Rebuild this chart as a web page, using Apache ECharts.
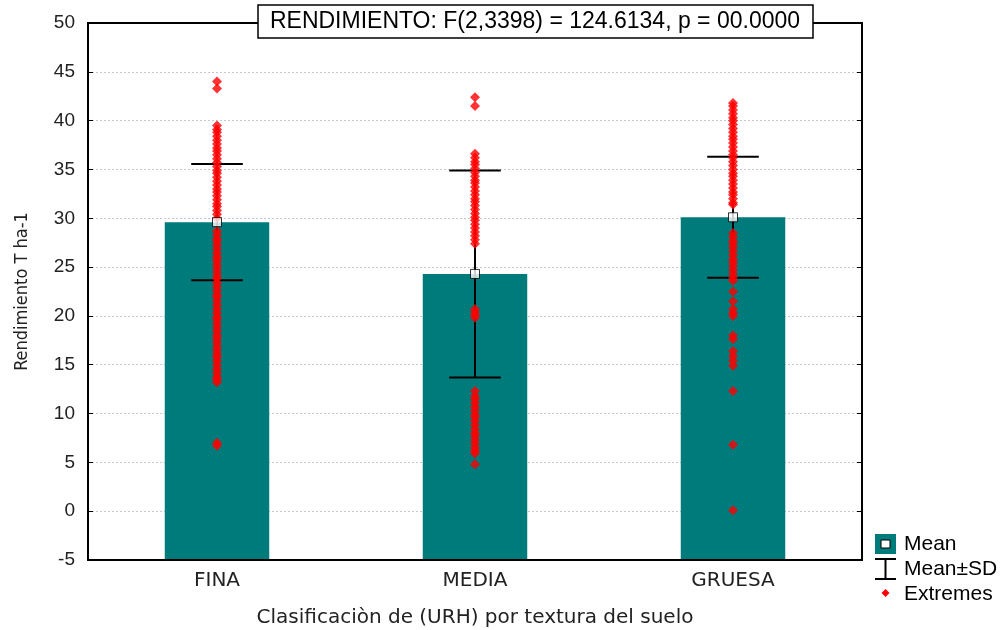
<!DOCTYPE html>
<html><head><meta charset="utf-8">
<script src="https://cdn.jsdelivr.net/npm/echarts@6/dist/echarts.min.js"></script>
<style>html,body{margin:0;padding:0;background:#fff}#c{width:1008px;height:630px}</style>
</head><body><div id="c"></div>
<script>
const categories = ['FINA', 'MEDIA', 'GRUESA'];
const means = [29.6, 24.3, 30.1];
const sds = [5.95, 10.6, 6.2];
const yMin = -5, yMax = 50, yStep = 5;
const extremesFina = [44.0, 43.3, 39.5, 39.1, 38.8, 38.4, 38.0, 37.6, 37.2, 36.9, 36.5, 36.1, 35.7, 35.3, 34.9, 34.6, 34.2, 33.8, 33.4, 33.0, 32.7, 32.3, 31.9, 31.5, 31.2, 30.8, 30.4, 30.0,
  28.7, 28.3, 27.9, 27.6, 27.2, 26.8, 26.4, 26.0, 25.7, 25.3, 24.9, 24.5, 24.1, 23.8, 23.4, 23.0, 22.6, 22.2, 21.9, 21.5, 21.1, 20.7, 20.3, 19.9, 19.6, 19.2, 18.8, 18.4, 18.0, 17.7, 17.3, 16.9, 16.5, 16.1, 15.8, 15.4, 15.0, 14.6, 14.2, 13.8, 13.5, 13.2, 7.0, 6.7];
const extremesMedia = [42.4, 41.5, 36.6, 36.2, 35.8, 35.5, 35.1, 34.7, 34.3, 33.9, 33.6, 33.2, 32.8, 32.4, 32.0, 31.7, 31.3, 30.9, 30.5, 30.1, 29.8, 29.4, 29.0, 28.6, 28.2, 27.8, 27.4,
  20.7, 20.4, 20.1, 19.8, 12.3, 11.8, 11.5, 11.1, 10.7, 10.3, 9.9, 9.6, 9.2, 8.8, 8.4, 8.0, 7.7, 7.3, 6.9, 6.5, 6.2, 5.9, 4.8];
const extremesGruesa = [41.8, 41.5, 41.1, 40.7, 40.3, 40.0, 39.6, 39.2, 38.8, 38.4, 38.1, 37.7, 37.3, 36.9, 36.5, 36.2, 35.8, 35.4, 35.0, 34.6, 34.3, 33.9, 33.5, 33.1, 32.7, 32.4, 32.0, 31.6, 31.4,
  28.5, 28.1, 27.7, 27.4, 27.0, 26.6, 26.2, 25.8, 25.5, 25.1, 24.7, 24.3, 23.9, 23.6, 22.5, 21.5, 20.7, 20.3, 20.0, 18.0, 17.6, 16.4, 15.9, 15.4, 14.9, 12.3, 6.8, 0.1];
const titleText = 'RENDIMIENTO: F(2,3398) = 124.6134, p = 00.0000';
const yName = 'Rendimiento T ha-1';
const xName = 'Clasificaciòn de (URH) por textura del suelo';
const legendLabels = ['Mean', 'Mean±SD', 'Extremes'];

const TEAL = '#007B7B';
const chart = echarts.init(document.getElementById('c'), null, {renderer: 'canvas'});

const extremesData = [];
[extremesFina, extremesMedia, extremesGruesa].forEach((arr, i) => arr.forEach(v => extremesData.push([i, v])));

const option = {
  animation: false,
  backgroundColor: '#fff',
  textStyle: {fontFamily: 'Liberation Sans'},
  grid: {left: 88, right: 146, top: 23, bottom: 70, show: true, borderColor: '#000', borderWidth: 2, backgroundColor: 'transparent', outerBoundsMode: 'none', containLabel: false},
  xAxis: {
    type: 'category', data: categories,
    axisLine: {show: true, onZero: false, lineStyle: {color: '#000', width: 2}},
    axisTick: {show: true, inside: true, alignWithLabel: true, length: 5, lineStyle: {color: '#000'}},
    axisLabel: {fontSize: 20, color: '#222', margin: 11, fontFamily: 'DejaVu Sans'},
    name: xName, nameLocation: 'middle', nameGap: 48,
    nameTextStyle: {fontSize: 20, color: '#222', fontFamily: 'DejaVu Sans'}
  },
  yAxis: [{
    type: 'value', min: yMin, max: yMax, interval: yStep,
    axisLine: {show: true, lineStyle: {color: '#000', width: 2}},
    axisTick: {show: true, inside: true, length: 5, lineStyle: {color: '#000'}},
    axisLabel: {fontSize: 19, color: '#222', margin: 13, fontFamily: 'Liberation Sans'},
    splitLine: {show: true, showMinLine: false, showMaxLine: false, lineStyle: {color: '#c8c8c8', type: [2, 2], width: 1}},
    name: yName, nameLocation: 'middle', nameGap: 57, nameRotate: 90,
    nameTextStyle: {fontSize: 18, color: '#222', fontFamily: 'DejaVu Sans Condensed, Liberation Sans'}
  }, {
    type: 'value', position: 'right', min: yMin, max: yMax, interval: yStep,
    axisLine: {show: true, lineStyle: {color: '#000', width: 2}},
    axisTick: {show: true, inside: true, length: 5, lineStyle: {color: '#000'}},
    axisLabel: {show: false}, splitLine: {show: false}
  }],
  series: [{
    type: 'custom', z: 2,
    data: means.map((m, i) => [i, m]),
    renderItem: (params, api) => {
      const i = api.value(0), m = api.value(1);
      const base = api.coord([i, yMin]);
      const top = api.coord([i, m]);
      const w = api.size([1, 0])[0] * 0.405;
      return {type: 'rect', shape: {x: top[0] - w / 2, y: top[1], width: w, height: base[1] - top[1] - 1}, style: {fill: TEAL}};
    }
  }, {
    type: 'custom', z: 3,
    data: means.map((m, i) => [i, m + sds[i], m - sds[i]]),
    renderItem: (params, api) => {
      const i = api.value(0);
      const hi = api.coord([i, api.value(1)]);
      const lo = api.coord([i, api.value(2)]);
      const cw = api.size([1, 0])[0] * 0.1;
      const st = {stroke: '#000', lineWidth: 2};
      return {type: 'group', children: [
        {type: 'line', shape: {x1: hi[0], y1: hi[1], x2: lo[0], y2: lo[1]}, style: st},
        {type: 'line', shape: {x1: hi[0] - cw, y1: hi[1], x2: hi[0] + cw, y2: hi[1]}, style: st},
        {type: 'line', shape: {x1: lo[0] - cw, y1: lo[1], x2: lo[0] + cw, y2: lo[1]}, style: st}
      ]};
    }
  }, {
    type: 'scatter', z: 4, symbol: 'diamond', symbolSize: 10,
    itemStyle: {color: '#ff0000'},
    data: extremesData
  }, {
    type: 'scatter', z: 5, symbol: 'rect', symbolSize: 9,
    itemStyle: {color: '#fff', borderColor: '#000', borderWidth: 1},
    data: means.map((m, i) => [i, m])
  }],
  graphic: [
    {type: 'rect', z: 100, shape: {x: 258, y: 5, width: 555, height: 33}, style: {fill: '#fff', stroke: '#000', lineWidth: 1.5}},
    {type: 'text', z: 101, x: 535, y: 22, style: {text: titleText, font: '23px "Liberation Sans"', fill: '#000', align: 'center', verticalAlign: 'middle'}},
    {type: 'rect', z: 100, shape: {x: 875, y: 534, width: 21, height: 20}, style: {fill: TEAL}},
    {type: 'rect', z: 101, shape: {x: 881, y: 540, width: 9, height: 8}, style: {fill: '#fff', stroke: '#000', lineWidth: 1}},
    {type: 'text', z: 101, x: 904, y: 544, style: {text: legendLabels[0], font: '21px "Liberation Sans"', fill: '#000', verticalAlign: 'middle'}},
    {type: 'line', z: 101, shape: {x1: 875, y1: 559, x2: 896, y2: 559}, style: {stroke: '#000', lineWidth: 2}},
    {type: 'line', z: 101, shape: {x1: 885.5, y1: 559, x2: 885.5, y2: 579}, style: {stroke: '#000', lineWidth: 2}},
    {type: 'line', z: 101, shape: {x1: 875, y1: 579, x2: 896, y2: 579}, style: {stroke: '#000', lineWidth: 2}},
    {type: 'text', z: 101, x: 904, y: 569, style: {text: legendLabels[1], font: '21px "Liberation Sans"', fill: '#000', verticalAlign: 'middle'}},
    {type: 'polygon', z: 101, shape: {points: [[885.5, 589], [889.5, 593], [885.5, 597], [881.5, 593]]}, style: {fill: '#ff0000'}},
    {type: 'text', z: 101, x: 904, y: 594, style: {text: legendLabels[2], font: '21px "Liberation Sans"', fill: '#000', verticalAlign: 'middle'}}
  ]
};
chart.setOption(option);
</script></body></html>
